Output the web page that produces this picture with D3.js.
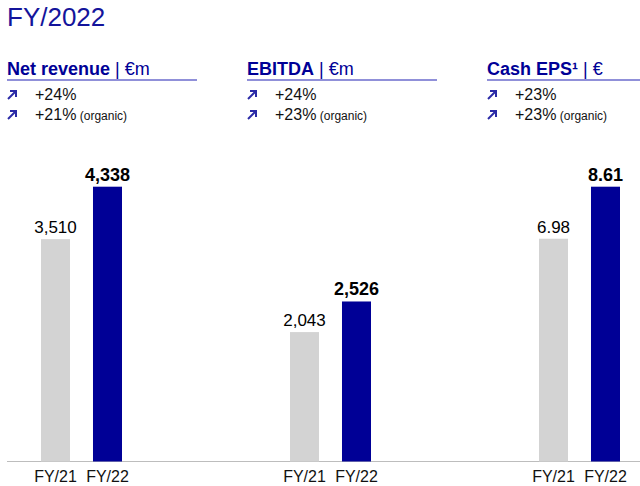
<!DOCTYPE html>
<html>
<head>
<meta charset="utf-8">
<script src="https://cdn.jsdelivr.net/npm/d3@7"></script>
<style>
  body { margin: 0; background: #fff; }
  text { font-family: "Liberation Sans", Arial, sans-serif; }
</style>
</head>
<body>
<div id="chart"></div>
<script>
var width = 640,
height = 486;

// data
var title = "FY/2022";
var metrics = ["Net revenue", "EBITDA", "Cash EPS\u00b9"];
var units = ["\u20acm", "\u20acm", "\u20ac"];
var years = ["FY/21", "FY/22"];
var fy21 = [3510, 2043, 6.98];
var fy22 = [4338, 2526, 8.61];
var growth = ["+24%", "+24%", "+23%"];
var organic = ["+21%", "+23%", "+23%"];

var navy = "#000096",
    grey = "#d3d3d3";

var svg = d3.select('#chart').append('svg')
    .attr('width', width)
    .attr('height', height);

svg.append("text")
    .attr("x", 7)
    .attr("y", 26)
    .attr("font-size", 26)
    .attr("fill", "#14149b")
    .text(title);

// header columns
let scaleHead = d3.scalePoint().domain(metrics).range([7, 487]);
let headW = 190;

let heads = svg.selectAll(".head").data(metrics).enter().append("g")
    .attr("class", "head")
    .attr("transform", d => "translate(" + scaleHead(d) + ",0)");

let ht = heads.append("text")
    .attr("y", 75)
    .attr("font-size", 18)
    .attr("fill", navy);
ht.append("tspan").attr("font-weight", "bold").text(d => d);
ht.append("tspan").text((d, i) => " | " + units[i]);

heads.append("line")
    .attr("x1", 0)
    .attr("x2", (d, i) => i == metrics.length - 1 ? width - scaleHead(d) : headW)
    .attr("y1", 80).attr("y2", 80)
    .attr("stroke", "#6b6bcc")
    .attr("stroke-width", 1.5);

// growth rows, each with an up-right arrow
[growth, organic].forEach((rows, r) => {
    let y = 100 + r * 20;
    let arrow = heads.append("g")
        .attr("transform", "translate(0," + (y - 10) + ")")
        .attr("fill", "none")
        .attr("stroke", "#2a2aa6")
        .attr("stroke-width", 2);
    arrow.append("path").attr("d", "M1,9 L8,2");
    arrow.append("path").attr("d", "M3,1 L9,1 L9,7").attr("stroke-linejoin", "miter");
    let t = heads.append("text")
        .attr("x", 28)
        .attr("y", y)
        .attr("font-size", 16)
        .attr("fill", "#111");
    t.append("tspan").text((d, i) => rows[i]);
    if (r == 1) {
        t.append("tspan").attr("font-size", 12).text(" (organic)");
    }
});

// bars
let baseY = 461.5, topY = 186.7;
let scaleX = d3.scalePoint().domain(metrics).range([81.5, 579.5]);
let scaleX1 = d3.scaleBand().domain(years).range([-40.5, 40.5]).paddingInner(0.442);

// one y scale per unit
let yScales = {};
units.forEach((u, i) => {
    let vals = [];
    units.forEach((u2, j) => { if (u2 == u) vals.push(fy21[j], fy22[j]); });
    yScales[u] = d3.scaleLinear().domain([0, d3.max(vals)]).range([baseY, topY]);
});

svg.append("line")
    .attr("x1", 7).attr("x2", width)
    .attr("y1", baseY).attr("y2", baseY)
    .attr("stroke", "#bdbdbd")
    .attr("stroke-width", 1.2);

let panels = svg.selectAll(".panel").data(metrics).enter().append("g")
    .attr("class", "panel")
    .attr("transform", d => "translate(" + scaleX(d) + ",0)");

panels.each(function(m, i) {
    let p = d3.select(this);
    let y = yScales[units[i]];
    let fmt = units[i] == "\u20ac" ? d3.format(".2f") : d3.format(",.0f");
    let vals = [fy21[i], fy22[i]];
    p.selectAll("rect").data(years).enter().append("rect")
        .attr("x", d => scaleX1(d))
        .attr("width", scaleX1.bandwidth())
        .attr("y", (d, k) => y(vals[k]))
        .attr("height", (d, k) => baseY - y(vals[k]))
        .attr("fill", (d, k) => k == 0 ? grey : navy);
    p.selectAll(".val").data(years).enter().append("text")
        .attr("class", "val")
        .attr("x", d => scaleX1(d) + scaleX1.bandwidth() / 2)
        .attr("y", (d, k) => y(vals[k]) - 6)
        .attr("text-anchor", "middle")
        .attr("font-size", (d, k) => k == 0 ? 17 : 18)
        .attr("font-weight", (d, k) => k == 0 ? "normal" : "bold")
        .attr("fill", "#000")
        .text((d, k) => fmt(vals[k]));

    let ax = d3.axisBottom(scaleX1).tickSize(0).tickPadding(0);
    let ag = p.append("g").attr("transform", "translate(0," + (baseY + 9) + ")").call(ax);
    ag.select(".domain").remove();
    ag.selectAll("text")
        .attr("font-size", 16)
        .attr("font-family", "Liberation Sans, Arial, sans-serif")
        .attr("fill", "#111");
});
</script>
</body>
</html>
